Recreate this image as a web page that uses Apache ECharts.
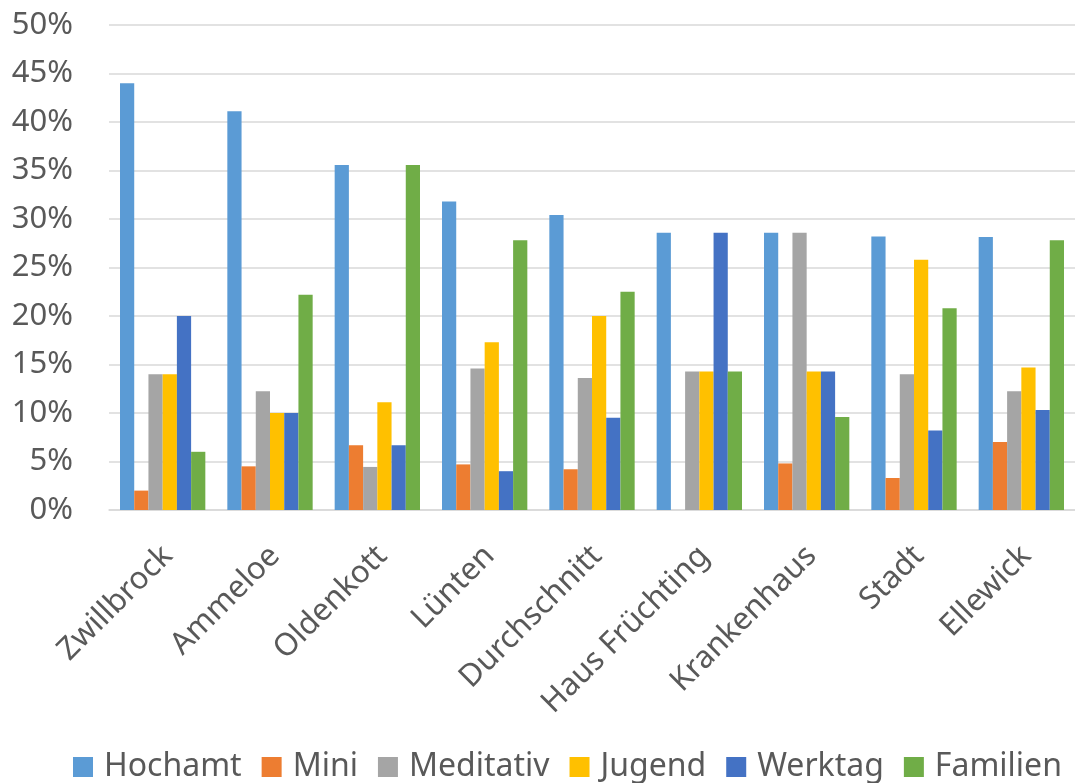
<!DOCTYPE html>
<html>
<head>
<meta charset="utf-8">
<script src="https://cdn.jsdelivr.net/npm/echarts@6/dist/echarts.min.js"></script>
<style>
  html, body { margin: 0; padding: 0; background: #ffffff; }
  #chart { width: 1075px; height: 783px; }
</style>
</head>
<body>
<div id="chart"></div>
<script>
// Gottesdienst-Formate je Standort (Anteile in %)
const categories = ['Zwillbrock', 'Ammeloe', 'Oldenkott', 'Lünten', 'Durchschnitt', 'Haus Früchting', 'Krankenhaus', 'Stadt', 'Ellewick'];
const seriesNames = ['Hochamt', 'Mini', 'Meditativ', 'Jugend', 'Werktag', 'Familien'];

const hochamt   = [44.0, 41.1, 35.56, 31.8, 30.4, 28.57, 28.57, 28.2, 28.15];
const mini      = [2.0, 4.5, 6.67, 4.7, 4.2, 0, 4.8, 3.3, 7.0];
const meditativ = [14.0, 12.25, 4.44, 14.6, 13.6, 14.29, 28.57, 14.0, 12.25];
const jugend    = [14.0, 10.0, 11.11, 17.3, 20.0, 14.29, 14.29, 25.8, 14.7];
const werktag   = [20.0, 10.0, 6.67, 4.0, 9.5, 28.57, 14.29, 8.2, 10.3];
const familien  = [6.0, 22.2, 35.56, 27.8, 22.5, 14.29, 9.6, 20.8, 27.8];

const yTicks = { min: 0, max: 50, interval: 5 };

const seriesData = [hochamt, mini, meditativ, jugend, werktag, familien];
const colors = ['#5B9BD5', '#ED7D31', '#A5A5A5', '#FFC000', '#4472C4', '#70AD47'];

const FONT = 'Noto Sans';
const TEXT = '#595959';

const chart = echarts.init(document.getElementById('chart'), null, { renderer: 'canvas' });

chart.setOption({
  animation: false,
  backgroundColor: '#ffffff',
  color: colors,
  textStyle: { fontFamily: FONT },
  grid: { left: 109, right: -10, top: 25, bottom: 273, containLabel: false },
  legend: {
    data: seriesNames,
    left: 73,
    top: 751,
    padding: 0,
    itemWidth: 20,
    itemHeight: 20,
    itemGap: 20,
    icon: 'rect',
    textStyle: { fontFamily: FONT, fontSize: 32, color: TEXT, padding: [0, 0, 0, 6] }
  },
  xAxis: {
    type: 'category',
    data: categories,
    axisTick: { show: false },
    axisLine: { show: true, lineStyle: { color: '#d9d9d9', width: 1.5 } },
    axisLabel: {
      rotate: 45,
      interval: 0,
      margin: 46,
      padding: [0, -7, 0, 0],
      fontFamily: FONT,
      fontSize: 31,
      color: TEXT
    }
  },
  yAxis: {
    type: 'value',
    min: yTicks.min,
    max: yTicks.max,
    interval: yTicks.interval,
    axisLine: { show: false },
    axisTick: { show: false },
    splitLine: { lineStyle: { color: '#d9d9d9', width: 1.5 } },
    axisLabel: {
      formatter: '{value}%',
      margin: 36,
      fontFamily: FONT,
      fontSize: 31,
      color: TEXT
    }
  },
  series: seriesNames.map((name, i) => ({
    name: name,
    type: 'bar',
    data: seriesData[i],
    barGap: '0%',
    barCategoryGap: '20.5%',
    itemStyle: { color: colors[i] }
  }))
});
</script>
</body>
</html>
